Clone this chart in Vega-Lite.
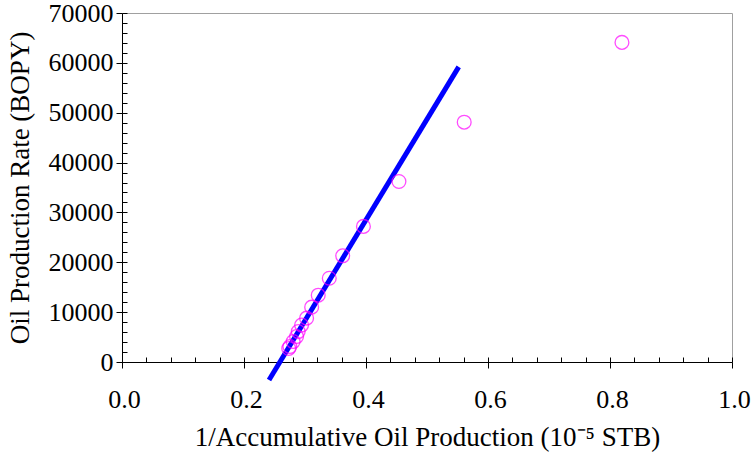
{
  "$schema": "https://vega.github.io/schema/vega-lite/v6.json",
  "autosize": "none",
  "padding": {"left": 122, "top": 13, "right": 22, "bottom": 95},
  "width": 610,
  "height": 349,
  "background": "white",
  "config": {
    "view": {"stroke": "#a0a0a0", "strokeWidth": 1},
    "font": "Liberation Serif",
    "axis": {
      "labelFont": "Liberation Serif",
      "titleFont": "Liberation Serif",
      "labelColor": "black",
      "titleColor": "black",
      "domainColor": "black",
      "tickColor": "black",
      "grid": false,
      "labelFontSize": 26,
      "titleFontSize": 27,
      "titleFontWeight": "normal"
    }
  },
  "datasets": {
    "obs": [
      {"x": 0.2733, "y": 2700},
      {"x": 0.2752, "y": 3100},
      {"x": 0.2806, "y": 4100},
      {"x": 0.2862, "y": 5100},
      {"x": 0.2889, "y": 6100},
      {"x": 0.2944, "y": 7400},
      {"x": 0.3026, "y": 8800},
      {"x": 0.3109, "y": 11000},
      {"x": 0.3217, "y": 13400},
      {"x": 0.3398, "y": 16800},
      {"x": 0.3618, "y": 21300},
      {"x": 0.3958, "y": 27200},
      {"x": 0.454, "y": 36200},
      {"x": 0.561, "y": 48100},
      {"x": 0.8196, "y": 64100}
    ],
    "fit": [
      {"x": 0.241, "y": -3600},
      {"x": 0.552, "y": 59200}
    ]
  },
  "resolve": {"axis": {"x": "independent", "y": "independent"}},
  "layer": [
    {
      "data": {"name": "fit"},
      "mark": {"type": "line", "color": "#0000ff", "strokeWidth": 5, "clip": false},
      "encoding": {
        "x": {
          "field": "x", "type": "quantitative",
          "scale": {"domain": [0, 1], "nice": false, "zero": false},
          "axis": {
            "orient": "bottom",
            "values": [0, 0.04, 0.08, 0.12, 0.16, 0.2, 0.24, 0.28, 0.32, 0.36, 0.4, 0.44, 0.48, 0.52, 0.56, 0.6, 0.64, 0.68, 0.72, 0.76, 0.8, 0.84, 0.88, 0.92, 0.96, 1.0],
            "tickSize": -5, "labels": false, "domain": false, "title": null
          }
        },
        "y": {
          "field": "y", "type": "quantitative",
          "scale": {"domain": [0, 70000], "nice": false, "zero": false},
          "axis": {
            "orient": "left",
            "values": [0, 2000, 4000, 6000, 8000, 10000, 12000, 14000, 16000, 18000, 20000, 22000, 24000, 26000, 28000, 30000, 32000, 34000, 36000, 38000, 40000, 42000, 44000, 46000, 48000, 50000, 52000, 54000, 56000, 58000, 60000, 62000, 64000, 66000, 68000, 70000],
            "tickSize": -5, "labels": false, "domain": false, "title": null
          }
        }
      }
    },
    {
      "data": {"name": "obs"},
      "mark": {"type": "point", "shape": "circle", "filled": false, "stroke": "#ff00ff", "strokeWidth": 1.3, "size": 190},
      "encoding": {
        "x": {
          "field": "x", "type": "quantitative",
          "axis": {
            "orient": "bottom",
            "values": [0, 0.2, 0.4, 0.6, 0.8, 1.0],
            "format": ".1f",
            "tickSize": 6,
            "labelPadding": 18,
            "labelOffset": 2,
            "labelFlush": false,
            "title": "1/Accumulative Oil Production (10⁻⁵ STB)",
            "titlePadding": 12
          }
        },
        "y": {
          "field": "y", "type": "quantitative",
          "axis": {
            "orient": "left",
            "values": [0, 10000, 20000, 30000, 40000, 50000, 60000, 70000],
            "format": "d",
            "tickSize": 6,
            "labelPadding": 3,
            "labelFlush": false,
            "title": "Oil Production Rate (BOPY)",
            "titlePadding": 14
          }
        }
      }
    }
  ]
}
